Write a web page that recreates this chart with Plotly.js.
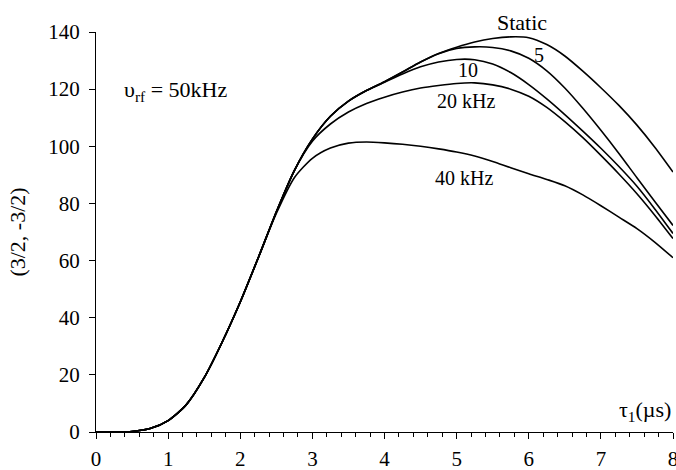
<!DOCTYPE html>
<html>
<head>
<meta charset="utf-8">
<script src="https://cdn.plot.ly/plotly-3.0.1.min.js"></script>
<style>
html,body{margin:0;padding:0;background:#fff;font-family:'Liberation Serif',serif;}
#chart{width:676px;height:470px;}
#chart text{font-family:'Liberation Serif',serif !important;}
</style>
</head>
<body>
<div id="chart"></div>
<script>
const tau = [0, 0.25, 0.5, 0.75, 1.0, 1.25, 1.5, 1.75, 2.0, 2.25, 2.5, 2.75, 3.0, 3.25, 3.5, 3.75, 4.0, 4.25, 4.5, 4.75, 5.0, 5.25, 5.5, 5.75, 6.0, 6.25, 6.5, 6.75, 7.0, 7.25, 7.5, 7.75, 8.0];

const staticVals = [0, 0, 0.2, 1.2, 4, 9.5, 19, 31.5, 45.5, 61, 77, 91.5, 102.5, 110.5, 115.8, 119.5, 122.6, 126, 129.5, 132.5, 134.7, 136.5, 137.7, 138.3, 138, 135.6, 131.6, 126.3, 120.5, 114.3, 107.4, 99.6, 91];
const khz5 = [0, 0, 0.2, 1.2, 4, 9.5, 19, 31.5, 45.5, 61, 77, 91.5, 102.5, 110.5, 115.8, 119.5, 122.6, 126, 129.5, 132.4, 134.2, 134.8, 134.6, 133.4, 130.8, 126.4, 120.4, 113.3, 105.6, 97.5, 89, 80.6, 72.3];
const khz10 = [0, 0, 0.2, 1.2, 4, 9.5, 19, 31.5, 45.5, 61, 77, 91.5, 102.5, 110.5, 115.8, 119.5, 122.4, 125.3, 127.8, 129.5, 130.4, 130.3, 128.8, 125.8, 121.6, 116.6, 111.1, 105.3, 99.3, 92.9, 86, 78, 69.5];
const khz20 = [0, 0, 0.2, 1.2, 4, 9.5, 19, 31.5, 45.5, 61, 77, 91.5, 101.8, 107.8, 112, 115, 117.2, 119, 120.4, 121.3, 122, 122.2, 121.5, 120, 117.5, 113.6, 108.6, 103, 96.8, 90.3, 83.4, 75.8, 67.7];
const khz40 = [0, 0, 0.2, 1.2, 4, 9.5, 19, 31.5, 45.5, 61, 76.5, 89, 95.8, 99.4, 101.1, 101.5, 101.2, 100.7, 100, 99.1, 98, 96.6, 94.7, 92.5, 90.4, 88.4, 86.2, 83, 79.2, 75.2, 71.2, 66.4, 61];

const seriesNames = ["Static", "5 kHz", "10 kHz", "20 kHz", "40 kHz"];
const seriesVals = [staticVals, khz5, khz10, khz20, khz40];

const xTicks = [0, 1, 2, 3, 4, 5, 6, 7, 8];
const yTicks = [0, 20, 40, 60, 80, 100, 120, 140];

const labelTexts = ["5", "10", "20 kHz", "40 kHz"];
const labelX = [6.14, 5.16, 5.13, 5.1];
const labelY = [132, 126.7, 116, 88.8];

const FONT = "Liberation Serif";

const traces = seriesVals.map((v, i) => ({
  x: tau, y: v, type: "scatter", mode: "lines", name: seriesNames[i],
  line: {color: "#000", width: 1.6, shape: "spline", smoothing: 0.7},
  showlegend: false, hoverinfo: "skip"
}));

const annotations = labelTexts.map((t, i) => ({
  x: labelX[i], y: labelY[i], xref: "x", yref: "y", text: t, showarrow: false,
  font: {family: FONT, size: 20, color: "#000"}, xanchor: "center", yanchor: "middle"
}));
annotations.push({
  x: 5.9, y: 1.025, xref: "x", yref: "paper", text: "Static", showarrow: false,
  font: {family: FONT, size: 22, color: "#000"}, xanchor: "center", yanchor: "middle"
});
annotations.push({
  x: 0.36, y: 119.3, xref: "x", yref: "y", text: "υ<sub>rf</sub> = 50kHz", showarrow: false,
  font: {family: FONT, size: 22, color: "#000"}, xanchor: "left", yanchor: "middle"
});
annotations.push({
  x: 8, y: 7.5, xref: "x", yref: "y", text: "τ<sub>1</sub>(µs)", showarrow: false,
  font: {family: FONT, size: 22, color: "#000"}, xanchor: "right", yanchor: "middle"
});

const layout = {
  width: 676, height: 470,
  margin: {l: 96, r: 3, t: 32, b: 38, pad: 0},
  paper_bgcolor: "#fff", plot_bgcolor: "#fff",
  font: {family: FONT, size: 21, color: "#000"},
  xaxis: {
    range: [0, 8], tickvals: xTicks, ticktext: xTicks.map(String),
    showline: true, linecolor: "#000", linewidth: 1,
    ticks: "outside", ticklen: 6, tickwidth: 1, tickcolor: "#000",
    ticklabelstandoff: 2, ticklabeloverflow: "allow",
    minor: {dtick: 0.2, ticks: "outside", ticklen: 4, tickwidth: 1, tickcolor: "#000", showgrid: false},
    showgrid: false, zeroline: false, fixedrange: true,
    tickfont: {family: FONT, size: 21, color: "#000"}
  },
  yaxis: {
    range: [0, 140], tickvals: yTicks, ticktext: yTicks.map(String),
    showline: true, linecolor: "#000", linewidth: 1,
    ticks: "outside", ticklen: 6, tickwidth: 1, tickcolor: "#000",
    ticklabelstandoff: 5,
    showgrid: false, zeroline: false, fixedrange: true,
    tickfont: {family: FONT, size: 21, color: "#000"},
    title: {text: "(3/2, -3/2)", font: {family: FONT, size: 22, color: "#000"}, standoff: 16}
  },
  annotations: annotations
};

Plotly.newPlot("chart", traces, layout, {displayModeBar: false});
</script>
</body>
</html>
